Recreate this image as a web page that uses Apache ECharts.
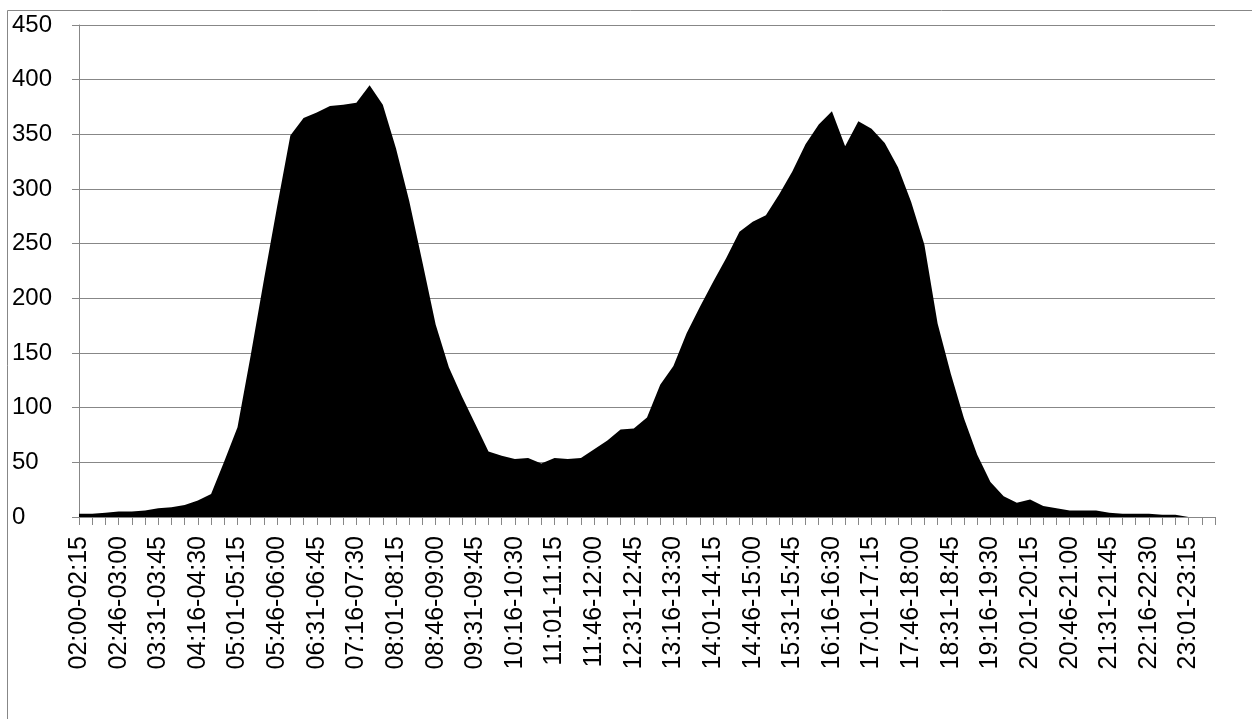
<!DOCTYPE html>
<html>
<head>
<meta charset="utf-8">
<script src="https://cdn.jsdelivr.net/npm/echarts@6/dist/echarts.min.js"></script>
<style>
html,body{margin:0;padding:0;background:#fff;}
#chart{width:1252px;height:719px;}
</style>
</head>
<body>
<div id="chart"></div>
<script>
var categories = [
"02:00-02:15","02:16-02:30","02:31-02:45","02:46-03:00",
"03:01-03:15","03:16-03:30","03:31-03:45","03:46-04:00",
"04:01-04:15","04:16-04:30","04:31-04:45","04:46-05:00",
"05:01-05:15","05:16-05:30","05:31-05:45","05:46-06:00",
"06:01-06:15","06:16-06:30","06:31-06:45","06:46-07:00",
"07:01-07:15","07:16-07:30","07:31-07:45","07:46-08:00",
"08:01-08:15","08:16-08:30","08:31-08:45","08:46-09:00",
"09:01-09:15","09:16-09:30","09:31-09:45","09:46-10:00",
"10:01-10:15","10:16-10:30","10:31-10:45","10:46-11:00",
"11:01-11:15","11:16-11:30","11:31-11:45","11:46-12:00",
"12:01-12:15","12:16-12:30","12:31-12:45","12:46-13:00",
"13:01-13:15","13:16-13:30","13:31-13:45","13:46-14:00",
"14:01-14:15","14:16-14:30","14:31-14:45","14:46-15:00",
"15:01-15:15","15:16-15:30","15:31-15:45","15:46-16:00",
"16:01-16:15","16:16-16:30","16:31-16:45","16:46-17:00",
"17:01-17:15","17:16-17:30","17:31-17:45","17:46-18:00",
"18:01-18:15","18:16-18:30","18:31-18:45","18:46-19:00",
"19:01-19:15","19:16-19:30","19:31-19:45","19:46-20:00",
"20:01-20:15","20:16-20:30","20:31-20:45","20:46-21:00",
"21:01-21:15","21:16-21:30","21:31-21:45","21:46-22:00",
"22:01-22:15","22:16-22:30","22:31-22:45","22:46-23:00",
"23:01-23:15","23:16-23:30","23:31-23:45"
];

var values = [
3,3,4,5,5,6,8,9,11,15,
21,51,82,148,217,284,349,365,370,376,
377,379,395,377,337,289,233,176,137,110,
85,60,56,53,54,49,54,53,54,62,
70,80,81,91,121,138,168,192,215,237,
261,270,276,295,316,341,359,371,339,362,
355,342,320,288,249,177,131,90,57,32,
19,13,16,10,8,6,6,6,4,3,
3,3,2,2,0,0,0
];

var yTicks = { min: 0, max: 450, interval: 50 };

var gray = '#878787';
var fontFam = '"Liberation Sans", Arial, sans-serif';

var chart = echarts.init(document.getElementById('chart'), null, {renderer: 'canvas'});
chart.setOption({
  animation: false,
  backgroundColor: '#ffffff',
  graphic: [{
    type: 'rect',
    shape: { x: 7.5, y: 10.5, width: 1300, height: 760 },
    style: { fill: 'none', stroke: gray, lineWidth: 1 },
    silent: true,
    z: -1
  }],
  grid: { left: 79, right: 37, top: 25, bottom: 202, containLabel: false },
  xAxis: {
    type: 'category',
    data: categories,
    boundaryGap: false,
    axisLine: { show: true, lineStyle: { color: gray, width: 1 } },
    axisTick: { show: true, interval: 0, length: 8, inside: false, lineStyle: { color: gray, width: 1 } },
    axisLabel: {
      interval: 2,
      rotate: 90,
      margin: 19,
      color: '#000',
      fontSize: 25,
      fontFamily: fontFam
    },
    splitLine: { show: false }
  },
  yAxis: {
    type: 'value',
    min: yTicks.min,
    max: yTicks.max,
    interval: yTicks.interval,
    axisLine: { show: true, lineStyle: { color: gray, width: 1 } },
    axisTick: { show: true, length: 7, lineStyle: { color: gray, width: 1 } },
    axisLabel: { color: '#000', fontSize: 24, fontFamily: fontFam, margin: 67, align: 'left' },
    splitLine: { show: true, lineStyle: { color: gray, width: 1 } }
  },
  series: [{
    type: 'line',
    data: values,
    symbol: 'none',
    smooth: false,
    lineStyle: { width: 0, color: '#000' },
    areaStyle: { color: '#000', opacity: 1 },
    itemStyle: { color: '#000' }
  }]
});
</script>
</body>
</html>
